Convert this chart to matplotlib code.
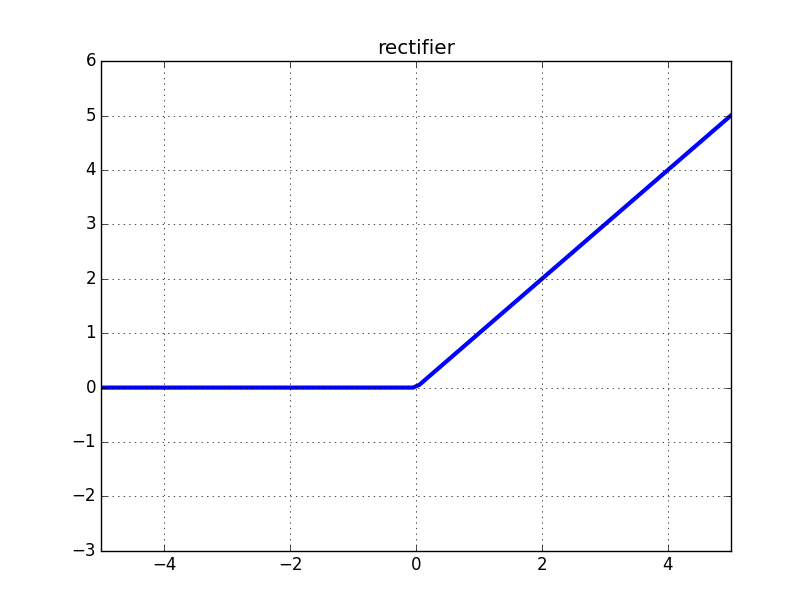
import matplotlib
matplotlib.use("Agg")
import matplotlib.pyplot as plt

plt.style.use("classic")

x_vals = [-5.0, -0.05, 0.05, 5.0]
y_vals = [0.0, 0.0, 0.05, 5.0]
title = "rectifier"

fig = plt.figure(figsize=(8.12, 6.12), dpi=100)
ax = fig.add_subplot(111)
ax.plot(x_vals, y_vals, color="b", linewidth=3)
ax.set_xlim(-5, 5)
ax.set_ylim(-3, 6)
ax.set_xticks([-4, -2, 0, 2, 4])
ax.set_yticks([-3, -2, -1, 0, 1, 2, 3, 4, 5, 6])
ax.grid(True)
ax.set_title(title)
fig.savefig("out.png", dpi=100)
